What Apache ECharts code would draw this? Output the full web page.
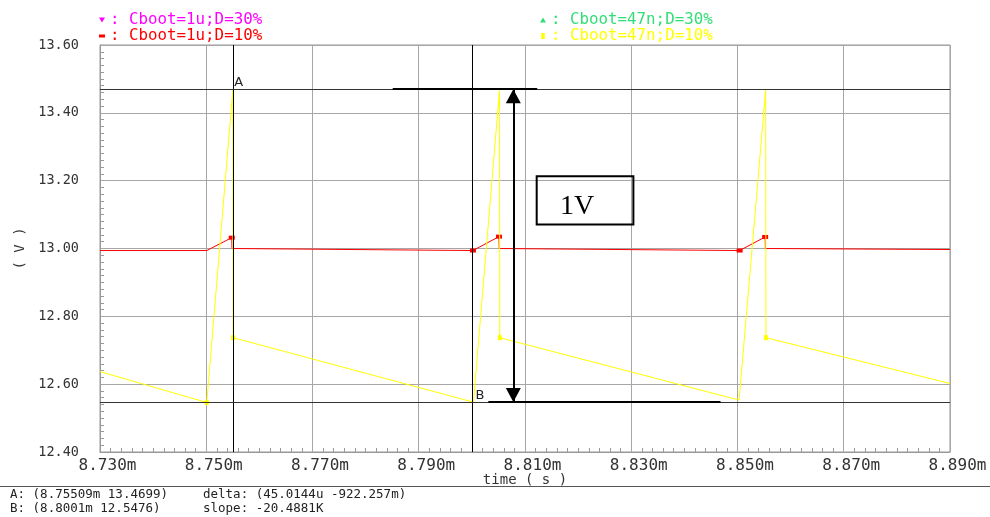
<!DOCTYPE html>
<html><head><meta charset="utf-8">
<script src="https://cdn.jsdelivr.net/npm/echarts@6/dist/echarts.min.js"></script>
<style>html,body{margin:0;padding:0;background:#fff}#c{width:990px;height:517px}</style>
</head><body><div id="c"></div>
<script>
// ---- data ----
const seriesNames = ['Cboot=1u;D=30%', 'Cboot=1u;D=10%', 'Cboot=47n;D=30%', 'Cboot=47n;D=10%'];
const xTickLabels = ['8.730m','8.750m','8.770m','8.790m','8.810m','8.830m','8.850m','8.870m','8.890m'];
const yTickLabels = ['12.40','12.60','12.80','13.00','13.20','13.40','13.60'];
// time in ms, voltage in V
const timeYellow = [8.7300, 8.7501, 8.7550, 8.75505, 8.8003, 8.8052, 8.80525, 8.8503, 8.8553, 8.85535, 8.8900];
const voltYellow = [12.637, 12.546, 13.468, 12.737, 12.547, 13.467, 12.737, 12.553, 13.468, 12.737, 12.602];
const timeRed = [8.7300, 8.7501, 8.7548, 8.75485, 8.8002, 8.8051, 8.80515, 8.8504, 8.8552, 8.85525, 8.8900];
const voltRed = [12.994, 12.994, 13.032, 13.000, 12.994, 13.035, 13.000, 12.994, 13.034, 13.000, 12.997];
const timeMagenta = [];
const voltMagenta = [];
const timeGreen = [];
const voltGreen = [];
const markYellowIdx = [1, 3, 6, 9];
const markRedIdx = [2, 4, 5, 7, 8];
const cursorA = [8.75509, 13.4699];
const cursorB = [8.8001, 12.5476];
const readoutA = 'A: (8.75509m 13.4699)';
const readoutB = 'B: (8.8001m 12.5476)';
const readoutDelta = 'delta: (45.0144u -922.257m)';
const readoutSlope = 'slope: -20.4881K';
// hand-drawn annotation (data coords)
const topBarT = [8.7851, 8.8123];
const bottomBarT = [8.8031, 8.8468];
const arrowT = 8.8078;
const boxT = [8.8122, 8.8304];
const boxV = [13.213, 13.071];
const boxText = '1V';

const X_MIN = 8.73, X_MAX = 8.89, X_STEP = 0.02;
const Y_MIN = 12.4, Y_MAX = 13.6, Y_STEP = 0.2;
const MONO = '"DejaVu Sans Mono", "Liberation Mono", monospace';

function buildData(ts, vs, idx, sym, size) {
  return ts.map((t, i) => idx.includes(i)
    ? { value: [t, vs[i]], symbol: sym, symbolSize: size }
    : [t, vs[i]]);
}

const colors = ['#ff00ff', '#ff0000', '#33dd77', '#ffff00'];

const chart = echarts.init(document.getElementById('c'), null, { renderer: 'canvas' });
chart.setOption({
  animation: false,
  backgroundColor: '#ffffff',
  grid: { left: 100, top: 45, width: 850, height: 407, show: true, borderColor: '#999', borderWidth: 1, backgroundColor: 'transparent' },
  legend: [
    {
      left: 99, top: 12, orient: 'vertical', padding: 0, itemGap: 0, itemWidth: 6, itemHeight: 6,
      selectedMode: false,
      formatter: n => ': ' + n,
      textStyle: { fontFamily: MONO, fontSize: 15.8, lineHeight: 14, padding: 0 },
      data: [
        { name: seriesNames[0], icon: 'path://M0,0L10,0L5,8Z', textStyle: { color: colors[0] } },
        { name: seriesNames[1], icon: 'path://M0,0h10v5h-10z', textStyle: { color: colors[1] } }
      ]
    },
    {
      left: 540, top: 12, orient: 'vertical', padding: 0, itemGap: 0, itemWidth: 6, itemHeight: 6,
      selectedMode: false,
      formatter: n => ': ' + n,
      textStyle: { fontFamily: MONO, fontSize: 15.8, lineHeight: 14, padding: 0 },
      data: [
        { name: seriesNames[2], icon: 'path://M5,0L10,8L0,8Z', textStyle: { color: colors[2] } },
        { name: seriesNames[3], icon: 'path://M0,0h6v10h-6z', textStyle: { color: colors[3] } }
      ]
    }
  ],
  xAxis: {
    type: 'value', min: X_MIN, max: X_MAX, interval: X_STEP,
    name: 'time ( s )', nameLocation: 'middle', nameGap: 21, nameMoveOverlap: false,
    nameTextStyle: { fontFamily: MONO, fontSize: 14, color: '#333' },
    axisLine: { show: true, lineStyle: { color: '#999' } },
    axisTick: { show: false, inside: true },
    minorTick: { show: true, splitNumber: 10, length: 4, lineStyle: { color: '#999' } },
    splitLine: { show: true, lineStyle: { color: '#a6a6a6', width: 1 } },
    axisLabel: {
      fontFamily: MONO, fontSize: 16, color: '#333', margin: 6, padding: [0, 0, 0, 15],
      showMinLabel: true, showMaxLabel: true,
      formatter: v => xTickLabels[Math.round((v - X_MIN) / X_STEP)] || ''
    }
  },
  yAxis: {
    type: 'value', min: Y_MIN, max: Y_MAX, interval: Y_STEP,
    name: '( V )', nameLocation: 'middle', nameGap: 72, nameRotate: 90,
    nameTextStyle: { fontFamily: MONO, fontSize: 14, color: '#333' },
    axisLine: { show: true, lineStyle: { color: '#999' } },
    axisTick: { show: false, inside: true },
    minorTick: { show: true, splitNumber: 10, length: 4, lineStyle: { color: '#999' } },
    splitLine: { show: true, lineStyle: { color: '#a6a6a6', width: 1 } },
    axisLabel: {
      fontFamily: MONO, fontSize: 13.5, color: '#333', margin: 21, padding: [0, 0, 10, 0],
      showMinLabel: true, showMaxLabel: true,
      formatter: v => yTickLabels[Math.round((v - Y_MIN) / Y_STEP)] || ''
    }
  },
  series: [
    {
      name: seriesNames[0], type: 'line', symbol: 'none', color: colors[0],
      lineStyle: { width: 1 }, data: buildData(timeMagenta, voltMagenta, [], 'none', 0)
    },
    {
      name: seriesNames[1], type: 'line', symbol: 'none', showSymbol: true, color: colors[1],
      lineStyle: { width: 1, color: colors[1] }, itemStyle: { color: colors[1] }, z: 3,
      data: buildData(timeRed, voltRed, markRedIdx, 'rect', [6, 4])
    },
    {
      name: seriesNames[2], type: 'line', symbol: 'none', color: colors[2],
      lineStyle: { width: 1 }, data: buildData(timeGreen, voltGreen, [], 'none', 0)
    },
    {
      name: seriesNames[3], type: 'line', symbol: 'none', showSymbol: true, color: colors[3],
      lineStyle: { width: 1, color: colors[3] }, itemStyle: { color: colors[3] }, z: 4,
      data: buildData(timeYellow, voltYellow, markYellowIdx, 'rect', [4, 5])
    },
    {
      name: 'cursors', type: 'line', symbol: 'none', silent: true, z: 5,
      lineStyle: { opacity: 0 },
      data: [cursorA],
      markLine: {
        silent: true, symbol: ['none', 'none'], animation: false, precision: 6,
        label: { show: false },
        data: [
          { xAxis: cursorA[0], lineStyle: { color: '#000', width: 1, type: 'solid' } },
          { xAxis: cursorB[0], lineStyle: { color: '#000', width: 1, type: 'solid' } },
          { yAxis: cursorA[1], lineStyle: { color: '#333', width: 1, type: 'solid' } },
          { yAxis: cursorB[1], lineStyle: { color: '#333', width: 1, type: 'solid' } },
          [{ coord: [topBarT[0], cursorA[1]], lineStyle: { color: '#000', width: 2, type: 'solid' } }, { coord: [topBarT[1], cursorA[1]] }],
          [{ coord: [bottomBarT[0], cursorB[1]], lineStyle: { color: '#000', width: 2, type: 'solid' } }, { coord: [bottomBarT[1], cursorB[1]] }],
          [{ coord: [arrowT, cursorA[1]], symbol: 'triangle', symbolSize: [15, 14], symbolOffset: [0, 7], lineStyle: { color: '#000', width: 2, type: 'solid' } },
           { coord: [arrowT, cursorB[1]], symbol: 'triangle', symbolSize: [15, 14], symbolOffset: [0, 7] }]
        ]
      },
      markArea: {
        silent: true,
        data: [[
          { coord: [boxT[0], boxV[0]], itemStyle: { color: 'rgba(255,255,255,0)', borderColor: '#000', borderWidth: 2 },
            label: { show: true, position: 'inside', formatter: boxText, fontFamily: '"Liberation Serif", "DejaVu Serif", serif', fontSize: 28, color: '#000', offset: [-8, 6] } },
          { coord: [boxT[1], boxV[1]] }
        ]]
      },
      markPoint: {
        silent: true, symbol: 'rect', symbolSize: 0,
        label: { show: true, fontFamily: 'DejaVu Sans, sans-serif', fontSize: 13, color: '#222' },
        data: [
          { coord: cursorA, value: 'A', label: { position: [1, -13], formatter: 'A' } },
          { coord: cursorB, value: 'B', label: { position: [3, -13], formatter: 'B' } }
        ]
      }
    }
  ],
  graphic: [
    { type: 'line', shape: { x1: 0, y1: 486.5, x2: 990, y2: 486.5 }, style: { stroke: '#555', lineWidth: 1 } },
    { type: 'text', left: 10, top: 488, style: { text: readoutA, font: '12.5px ' + MONO, fill: '#222' } },
    { type: 'text', left: 10, top: 502, style: { text: readoutB, font: '12.5px ' + MONO, fill: '#222' } },
    { type: 'text', left: 203, top: 488, style: { text: readoutDelta, font: '12.5px ' + MONO, fill: '#222' } },
    { type: 'text', left: 203, top: 502, style: { text: readoutSlope, font: '12.5px ' + MONO, fill: '#222' } }
  ]
});
</script>
</body></html>
